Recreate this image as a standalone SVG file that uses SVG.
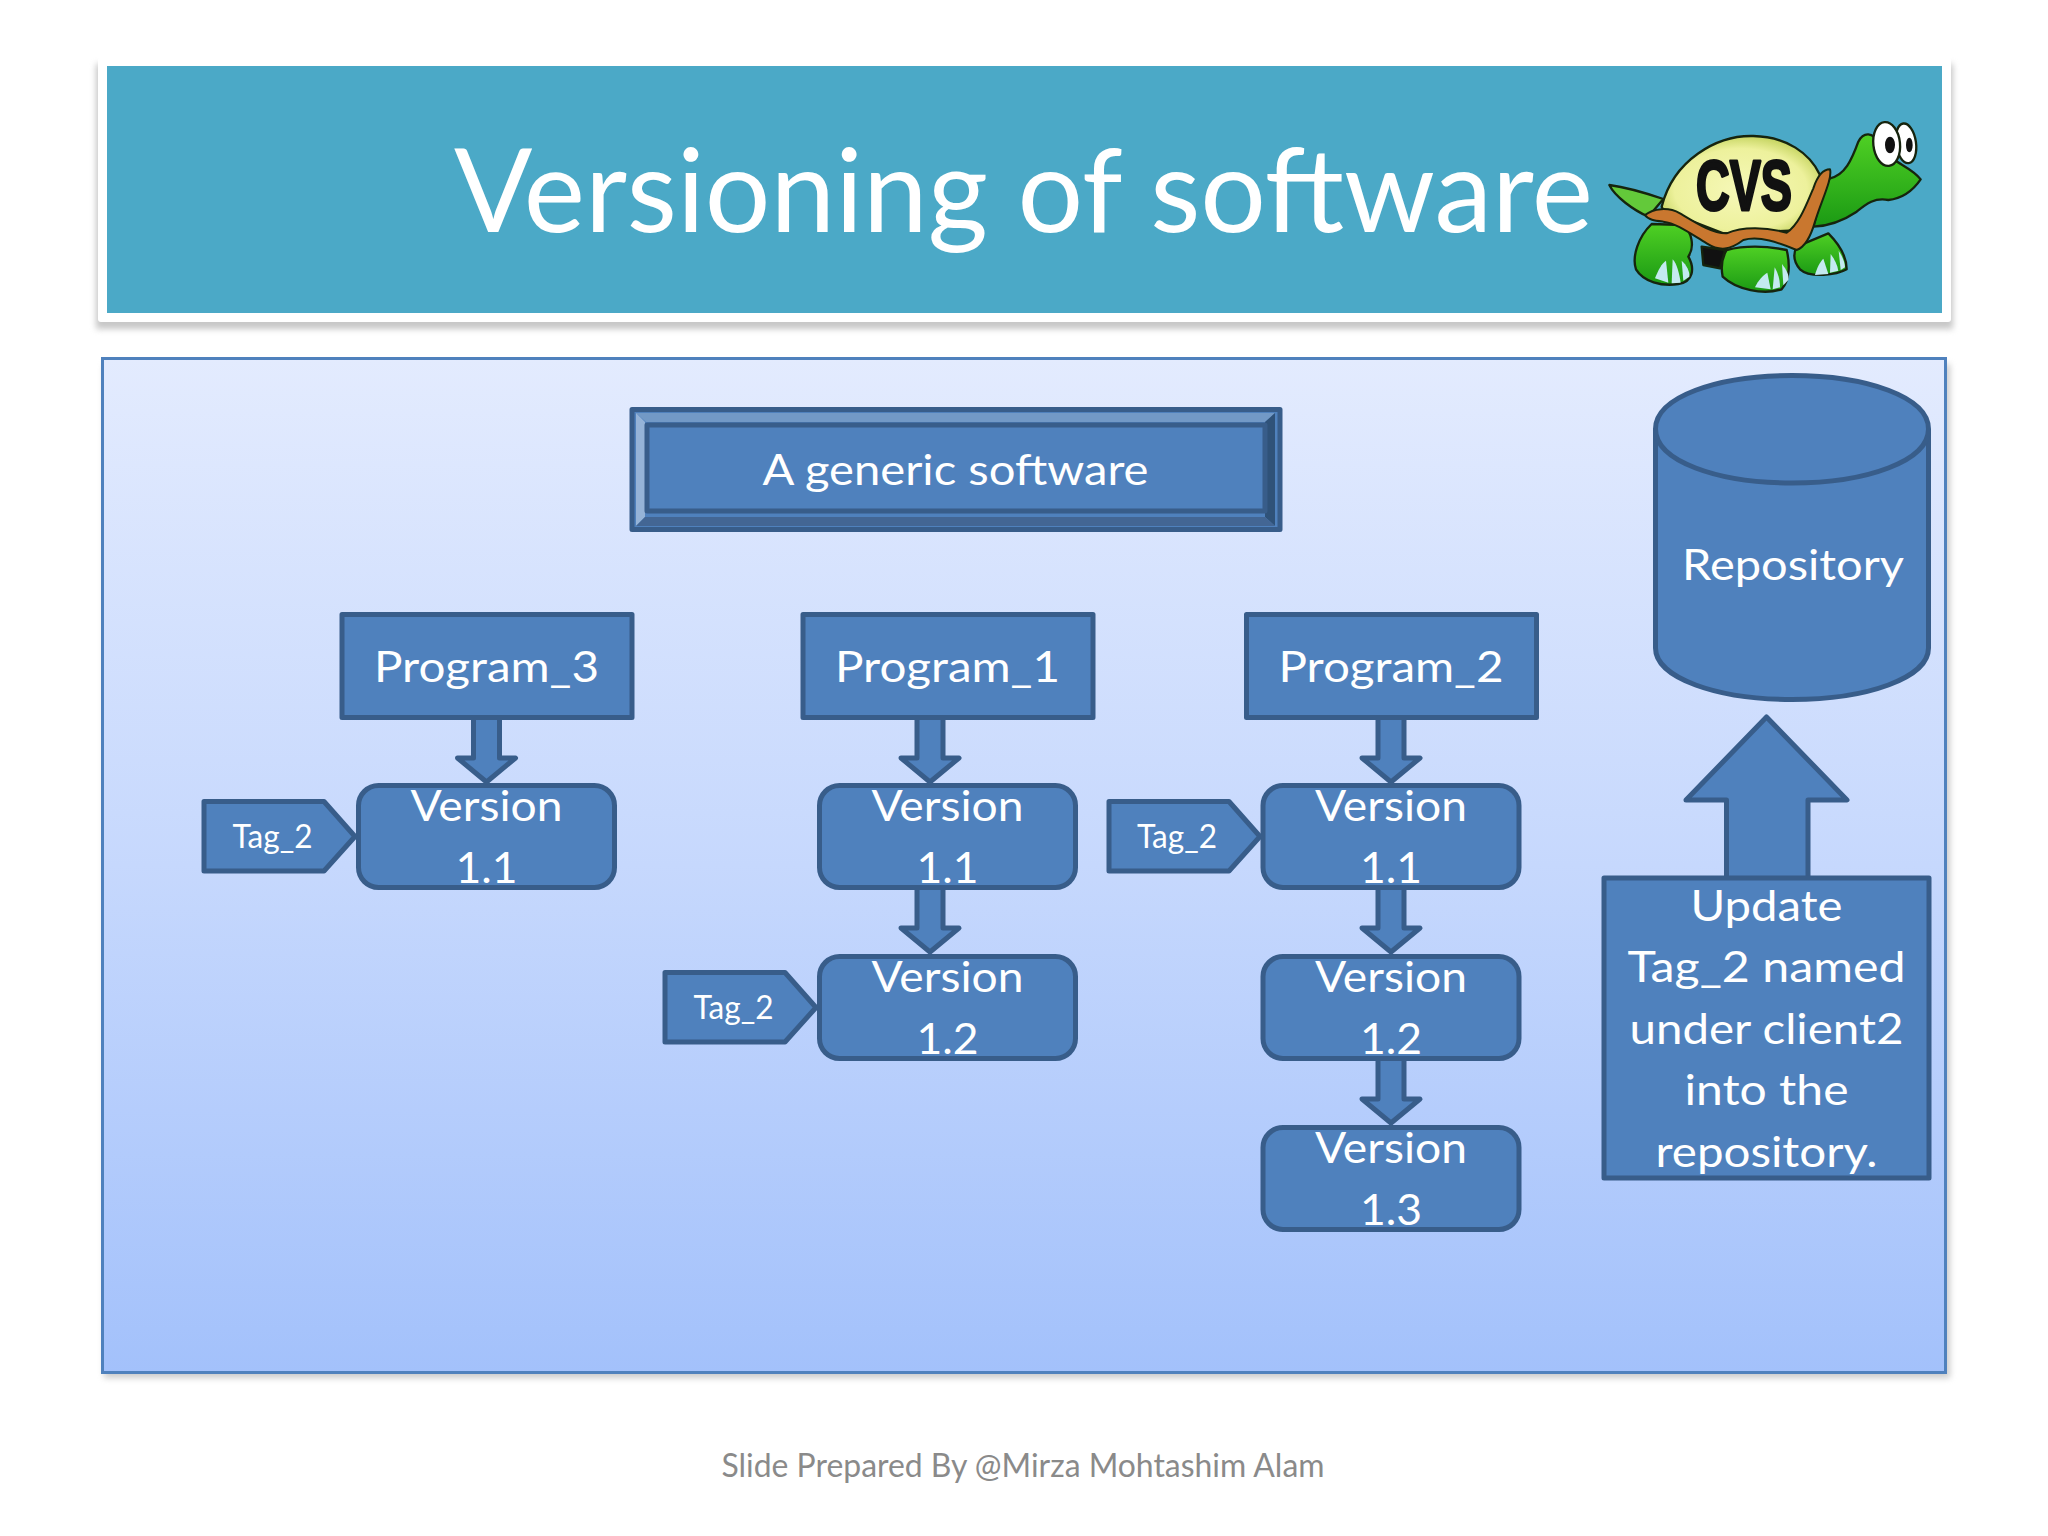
<svg xmlns="http://www.w3.org/2000/svg" width="2048" height="1536" viewBox="0 0 2048 1536">
<style>
text{font-family:"Lato","Liberation Sans",sans-serif;fill:#fff;text-anchor:middle}
.n{fill:#4f81bd;stroke:#385d8a;stroke-width:5;stroke-linejoin:round}
.m{font-size:43px}
.s{font-size:33px}
</style>
<defs>
<linearGradient id="panel" x1="0" y1="0" x2="0" y2="1"><stop offset="0" stop-color="#e3ebfe"/><stop offset=".5" stop-color="#c6d8fd"/><stop offset="1" stop-color="#a3c1fb"/></linearGradient>
<radialGradient id="shell" cx=".5" cy=".55" r=".6"><stop offset="0" stop-color="#f6f8b8"/><stop offset=".7" stop-color="#edf19c"/><stop offset="1" stop-color="#b9cb4e"/></radialGradient>
<linearGradient id="skin" x1="0" y1="0" x2="0" y2="1"><stop offset="0" stop-color="#4fd024"/><stop offset="1" stop-color="#1b9a14"/></linearGradient>
<filter id="blur" x="-5%" y="-10%" width="110%" height="120%"><feGaussianBlur stdDeviation="3"/></filter>
<path id="arr" class="n" d="M-13,0V38H-29L0,62L29,38H13V0"/>
</defs>
<rect width="2048" height="1536" fill="#fff"/>
<g id="header">
<rect x="96" y="64" width="1857" height="265" fill="#8f8f8f" opacity=".5" filter="url(#blur)"/>
<rect x="98" y="57" width="1853" height="265" rx="3" fill="#fff"/>
<rect x="107" y="66" width="1835" height="247" fill="#4ba9c7"/>
<text x="1023.500" y="232" font-size="116" textLength="1139" lengthAdjust="spacingAndGlyphs">Versioning of software</text>
</g>
<g id="logo" transform="translate(1580 100) scale(.33333)" stroke="#16240e" stroke-width="7" stroke-linejoin="round">
<path d="M88,255C140,262 200,280 250,297L205,350C160,330 105,290 88,255Z" fill="#63c93a"/>
<path d="M215,372C175,410 155,470 168,508C190,545 245,560 295,552C340,545 345,505 325,470C345,440 335,395 310,375Z" fill="url(#skin)"/>
<path d="M365,440L435,450L420,505L370,495Z" fill="#111"/>
<path d="M650,440L745,400C775,430 800,470 800,508C770,525 690,535 660,508C640,485 640,460 650,440Z" fill="url(#skin)"/>
<path d="M440,450C500,435 570,440 620,450C630,490 630,540 605,568C550,585 470,570 428,530C422,500 425,475 440,450Z" fill="url(#skin)"/>
<path d="M700,380C715,330 725,270 750,235C795,225 815,180 835,125C850,95 880,95 895,130C930,190 990,195 1022,238C1000,270 970,295 925,300C885,292 860,310 830,335C790,362 740,378 700,380Z" fill="url(#skin)"/>
<path d="M245,320C280,180 410,105 520,108C620,110 690,160 720,225L680,390L430,400L250,330Z" fill="url(#shell)"/>
<path d="M195,345C220,325 265,320 300,340C350,370 400,402 440,400C490,378 560,382 620,398C660,370 680,310 700,265C710,235 725,208 750,208C758,235 725,300 705,365C695,400 680,440 650,450C600,430 540,405 490,420C450,450 420,455 380,430C330,400 290,370 250,365C225,362 205,360 195,345Z" fill="#c9772f" stroke-width="6"/>
<g stroke="none" fill="#c4eaf0"><path d="M225,535C235,510 245,490 258,482L265,548Z"/><path d="M275,550L278,478C290,490 298,520 302,548Z"/><path d="M305,482C320,495 330,515 328,530L310,542Z"/><path d="M525,562C535,540 550,525 562,518L572,568Z"/><path d="M578,568L584,502C595,520 600,540 600,562Z"/><path d="M606,492C620,510 628,525 625,540L610,556Z"/><path d="M705,525C710,505 720,485 730,476L745,522Z"/><path d="M750,518L752,462C765,480 772,495 775,512Z"/><path d="M776,452C788,470 795,490 795,502L782,510Z"/></g>
<ellipse cx="978" cy="130" rx="30" ry="60" fill="#fff" transform="rotate(-8 978 130)"/>
<ellipse cx="920" cy="132" rx="40" ry="66" fill="#fff" transform="rotate(-6 920 132)"/>
<ellipse cx="930" cy="135" rx="15" ry="25" fill="#111" stroke="none"/>
<ellipse cx="988" cy="135" rx="10" ry="22" fill="#111" stroke="none"/>
<text x="492" y="330" font-size="212" stroke="#111" stroke-width="9" textLength="288" lengthAdjust="spacingAndGlyphs" style="font-family:'Liberation Sans Narrow','Liberation Sans',sans-serif;font-weight:700;fill:#111">CVS</text>
</g>
<g id="panel-bg">
<rect x="104" y="364" width="1846" height="1014" fill="#999" opacity=".5" filter="url(#blur)"/>
<rect x="102.500" y="358.500" width="1843" height="1014" fill="url(#panel)" stroke="#4f81bd" stroke-width="3"/>
</g>
<g id="generic">
<rect class="n" x="632" y="409.500" width="648" height="120"/>
<path d="M636,413H1275L1265,422H646Z" fill="#7299c6"/>
<path d="M636,413L645,422V517L636,526Z" fill="#95b3d7"/>
<path d="M1275,413L1265,422V517L1275,526Z" fill="#2f5279"/>
<path d="M636,526L645,517H1265L1275,526Z" fill="#436694"/>
<rect class="n" x="647" y="425" width="618" height="86" stroke-width="4" stroke-linejoin="miter"/>
<text class="m" x="955.500" y="485" textLength="386" lengthAdjust="spacingAndGlyphs">A generic software</text>
</g>
<g id="repository">
<path class="n" d="M1655.500,429C1655.500,397 1717,375.500 1792,375.500S1928.500,397 1928.500,429V648C1928.500,678 1867,699.500 1792,699.500S1655.500,678 1655.500,648Z"/>
<path class="n" fill="none" d="M1655.500,429C1655.500,461 1717,483 1792,483S1928.500,461 1928.500,429"/>
<text class="m" x="1793" y="580" textLength="222" lengthAdjust="spacingAndGlyphs">Repository</text>
</g>
<g id="program3"><rect class="n" x="342" y="614.500" width="290" height="103"/><text class="m" x="486.500" y="682" textLength="225" lengthAdjust="spacingAndGlyphs">Program_3</text></g>
<g id="program1"><rect class="n" x="803" y="614.500" width="290" height="103"/><text class="m" x="947.500" y="682" textLength="225" lengthAdjust="spacingAndGlyphs">Program_1</text></g>
<g id="program2"><rect class="n" x="1246.500" y="614.500" width="290" height="103"/><text class="m" x="1391" y="682" textLength="225" lengthAdjust="spacingAndGlyphs">Program_2</text></g>
<g id="v31"><rect class="n" x="358.500" y="785.500" width="256" height="102" rx="20"/><text class="m" x="486.500" y="821" textLength="152" lengthAdjust="spacingAndGlyphs">Version</text><text class="m" x="486.500" y="883" textLength="62" lengthAdjust="spacingAndGlyphs">1.1</text></g>
<g id="v11"><rect class="n" x="819.500" y="785.500" width="256" height="102" rx="20"/><text class="m" x="947.500" y="821" textLength="152" lengthAdjust="spacingAndGlyphs">Version</text><text class="m" x="947.500" y="883" textLength="62" lengthAdjust="spacingAndGlyphs">1.1</text></g>
<g id="v12"><rect class="n" x="819.500" y="956.500" width="256" height="102" rx="20"/><text class="m" x="947.500" y="992" textLength="152" lengthAdjust="spacingAndGlyphs">Version</text><text class="m" x="947.500" y="1054" textLength="62" lengthAdjust="spacingAndGlyphs">1.2</text></g>
<g id="v21"><rect class="n" x="1263" y="785.500" width="256" height="102" rx="20"/><text class="m" x="1391" y="821" textLength="152" lengthAdjust="spacingAndGlyphs">Version</text><text class="m" x="1391" y="883" textLength="62" lengthAdjust="spacingAndGlyphs">1.1</text></g>
<g id="v22"><rect class="n" x="1263" y="956.500" width="256" height="102" rx="20"/><text class="m" x="1391" y="992" textLength="152" lengthAdjust="spacingAndGlyphs">Version</text><text class="m" x="1391" y="1054" textLength="62" lengthAdjust="spacingAndGlyphs">1.2</text></g>
<g id="v23"><rect class="n" x="1263" y="1127.500" width="256" height="102" rx="20"/><text class="m" x="1391" y="1163" textLength="152" lengthAdjust="spacingAndGlyphs">Version</text><text class="m" x="1391" y="1225" textLength="62" lengthAdjust="spacingAndGlyphs">1.3</text></g>
<g id="tag3"><path class="n" d="M204,801.500H324L355,836.500L324,871H204Z"/><text class="s" x="272.500" y="848" textLength="80" lengthAdjust="spacingAndGlyphs">Tag_2</text></g>
<g id="tag1"><path class="n" d="M665,972.500H785L816,1007.500L785,1042H665Z"/><text class="s" x="733.500" y="1019" textLength="80" lengthAdjust="spacingAndGlyphs">Tag_2</text></g>
<g id="tag2"><path class="n" d="M1109,801.500H1229L1260,836.500L1229,871H1109Z"/><text class="s" x="1177" y="848" textLength="80" lengthAdjust="spacingAndGlyphs">Tag_2</text></g>
<g id="connectors">
<use href="#arr" x="486.500" y="720"/>
<use href="#arr" x="930" y="720"/>
<use href="#arr" x="930" y="890"/>
<use href="#arr" x="1391" y="720"/>
<use href="#arr" x="1391" y="890"/>
<use href="#arr" x="1391" y="1061"/>
<path id="update-arrow" class="n" d="M1726.500,878V800H1686L1766.500,717L1847,800H1808V878"/>
</g>
<g id="update">
<rect class="n" x="1604" y="878" width="325" height="300"/>
<text class="m" x="1766.500" y="921" textLength="152" lengthAdjust="spacingAndGlyphs">Update</text>
<text class="m" x="1766.500" y="982" textLength="278" lengthAdjust="spacingAndGlyphs">Tag_2 named</text>
<text class="m" x="1766.500" y="1043.500" textLength="274" lengthAdjust="spacingAndGlyphs">under client2</text>
<text class="m" x="1766.500" y="1105" textLength="164" lengthAdjust="spacingAndGlyphs">into the</text>
<text class="m" x="1766.500" y="1166.500" textLength="222" lengthAdjust="spacingAndGlyphs">repository.</text>
</g>
<text id="footer" x="1023" y="1477" font-size="32" textLength="603" lengthAdjust="spacingAndGlyphs" style="fill:#8a8a8a">Slide Prepared By @Mirza Mohtashim Alam</text>
</svg>
